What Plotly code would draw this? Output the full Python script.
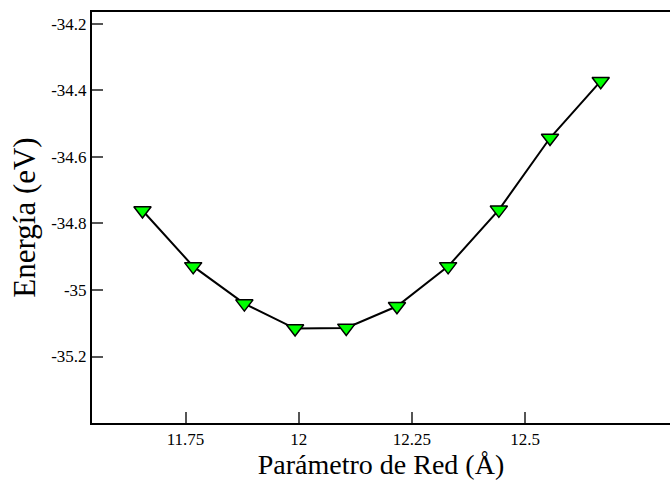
import plotly.graph_objects as go

lattice = [11.655, 11.767, 11.880, 11.992, 12.105, 12.217, 12.330, 12.442, 12.555, 12.667]
energy = [-34.761, -34.929, -35.041, -35.116, -35.114, -35.049, -34.929, -34.759, -34.543, -34.372]

x_ticks = [11.75, 12.0, 12.25, 12.5]
x_tick_labels = ["11.75", "12", "12.25", "12.5"]
y_ticks = [-34.2, -34.4, -34.6, -34.8, -35.0, -35.2]
y_tick_labels = ["-34.2", "-34.4", "-34.6", "-34.8", "-35", "-35.2"]

font = "Liberation Serif"

fig = go.Figure()
fig.add_trace(go.Scatter(
    x=lattice, y=energy, mode="lines+markers",
    line=dict(color="black", width=2),
    marker=dict(symbol="triangle-down", size=15, color="#00ff00",
                line=dict(color="black", width=1.5)),
    showlegend=False,
))

fig.update_layout(
    width=670, height=480,
    margin=dict(l=92, r=0, t=12, b=57),
    paper_bgcolor="white", plot_bgcolor="white",
    font=dict(family=font, color="black", size=17),
    xaxis=dict(
        range=[11.5435, 12.82], tickvals=x_ticks, ticktext=x_tick_labels,
        ticks="inside", ticklen=11, tickwidth=1.5, tickcolor="#555555",
        showline=True, linecolor="black", linewidth=2, mirror=True,
        showgrid=False, zeroline=False,
        tickfont=dict(family=font, size=17, color="black"),
        title=dict(text="Parámetro de Red (Å)", font=dict(family=font, size=28, color="black"), standoff=4),
    ),
    yaxis=dict(
        range=[-35.4, -34.164], tickvals=y_ticks, ticktext=y_tick_labels,
        ticks="inside", ticklen=11, tickwidth=1.5, tickcolor="#555555",
        showline=True, linecolor="black", linewidth=2, mirror=False,
        showgrid=False, zeroline=False,
        tickfont=dict(family=font, size=17, color="black"),
        title=dict(text="Energía (eV)", font=dict(family=font, size=31, color="black"), standoff=6),
    ),
)

fig.write_html("out.html")
